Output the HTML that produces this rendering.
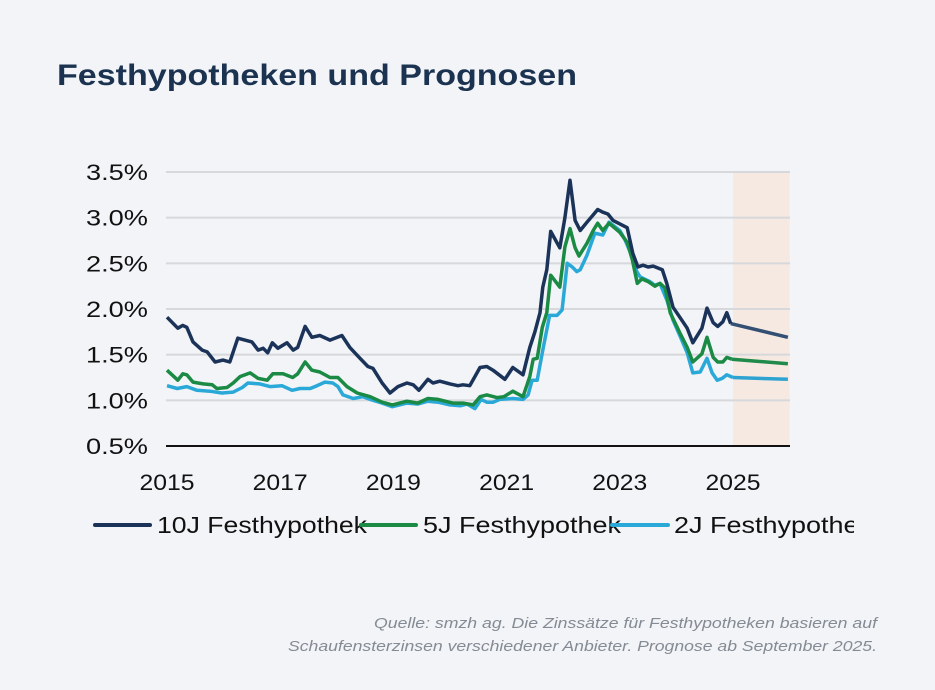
<!DOCTYPE html>
<html><head><meta charset="utf-8"><style>
html,body{margin:0;padding:0;background:#f2f4f7;}
body{width:935px;height:690px;overflow:hidden;font-family:"Liberation Sans",sans-serif;}
</style></head><body>
<svg id="chart" width="935" height="690" xmlns="http://www.w3.org/2000/svg" style="position:absolute;left:0;top:0">
<rect x="0" y="0" width="935" height="690" fill="#f2f4f7"/>
<text x="57" y="85" font-size="30" font-weight="bold" fill="#1b3350" textLength="520" lengthAdjust="spacingAndGlyphs">Festhypotheken und Prognosen</text>
<g id="grid"></g><g id="lines"></g><g id="axes"></g>
<g>
  <clipPath id="lc"><rect x="0" y="500" width="854" height="50"/></clipPath>
  <g clip-path="url(#lc)" font-size="23" fill="#111">
    <line x1="95" y1="525" x2="150" y2="525" stroke="#1b3358" stroke-width="4" stroke-linecap="round"/>
    <text x="157" y="533" textLength="210" lengthAdjust="spacingAndGlyphs">10J Festhypothek</text>
    <line x1="361" y1="525" x2="416" y2="525" stroke="#1a8a44" stroke-width="4" stroke-linecap="round"/>
    <text x="423" y="533" textLength="198" lengthAdjust="spacingAndGlyphs">5J Festhypothek</text>
    <line x1="612" y1="525" x2="668" y2="525" stroke="#2aa9d8" stroke-width="4" stroke-linecap="round"/>
    <text x="674" y="533" textLength="198" lengthAdjust="spacingAndGlyphs">2J Festhypothek</text>
  </g>
</g>
<text x="877" y="628" text-anchor="end" font-size="15" font-style="italic" fill="#858b94" textLength="503" lengthAdjust="spacingAndGlyphs">Quelle: smzh ag. Die Zinssätze für Festhypotheken basieren auf</text>
<text x="877" y="651" text-anchor="end" font-size="15" font-style="italic" fill="#858b94" textLength="589" lengthAdjust="spacingAndGlyphs">Schaufensterzinsen verschiedener Anbieter. Prognose ab September 2025.</text>
</svg>
<script>
const yTicks=[0.5,1.0,1.5,2.0,2.5,3.0,3.5];
const yTickLabels=["0.5%","1.0%","1.5%","2.0%","2.5%","3.0%","3.5%"];
const xTicks=[2015,2017,2019,2021,2023,2025];
const forecastStart=2025.0, forecastEnd=2026.0;
const t10=[0,0.19,0.28,0.35,0.46,0.62,0.71,0.85,0.99,1.11,1.25,1.50,1.61,1.70,1.78,1.86,1.96,2.12,2.23,2.31,2.44,2.56,2.70,2.88,3.09,3.23,3.41,3.55,3.64,3.80,3.94,4.08,4.24,4.35,4.45,4.61,4.70,4.82,5.00,5.14,5.23,5.35,5.53,5.65,5.76,5.97,6.11,6.29,6.41,6.50,6.59,6.64,6.71,6.78,6.94,7.03,7.12,7.21,7.30,7.42,7.53,7.61,7.70,7.79,7.88,8.13,8.23,8.32,8.41,8.50,8.59,8.75,8.83,8.94,9.06,9.19,9.29,9.45,9.54,9.65,9.73,9.82,9.89,9.96,10.97];
const v10=[1.91,1.79,1.82,1.80,1.64,1.55,1.53,1.42,1.44,1.42,1.68,1.64,1.55,1.57,1.52,1.63,1.57,1.63,1.55,1.58,1.81,1.69,1.71,1.66,1.71,1.58,1.46,1.37,1.35,1.19,1.08,1.15,1.19,1.17,1.11,1.23,1.19,1.21,1.18,1.16,1.17,1.16,1.36,1.37,1.33,1.23,1.36,1.28,1.58,1.75,1.96,2.24,2.43,2.85,2.67,3.00,3.41,2.97,2.86,2.95,3.03,3.09,3.06,3.04,2.97,2.89,2.61,2.46,2.48,2.46,2.47,2.43,2.28,2.02,1.91,1.79,1.63,1.79,2.01,1.85,1.81,1.86,1.96,1.84,1.69];
const t5=[0,0.19,0.28,0.35,0.46,0.64,0.80,0.88,1.06,1.17,1.29,1.47,1.61,1.77,1.87,2.05,2.22,2.31,2.44,2.56,2.70,2.88,3.02,3.18,3.36,3.59,3.80,3.98,4.24,4.43,4.61,4.79,5.05,5.23,5.41,5.53,5.65,5.83,5.95,6.11,6.29,6.41,6.47,6.54,6.63,6.71,6.78,6.94,7.03,7.12,7.21,7.28,7.42,7.53,7.61,7.70,7.81,8.00,8.13,8.22,8.31,8.39,8.50,8.62,8.71,8.80,8.89,9.06,9.19,9.29,9.45,9.54,9.65,9.73,9.82,9.89,9.98,10.97];
const v5=[1.33,1.22,1.29,1.28,1.20,1.18,1.17,1.13,1.14,1.19,1.26,1.30,1.24,1.22,1.29,1.29,1.25,1.29,1.42,1.33,1.31,1.25,1.25,1.15,1.08,1.04,0.98,0.95,0.99,0.97,1.02,1.01,0.97,0.97,0.95,1.04,1.06,1.03,1.04,1.10,1.04,1.26,1.45,1.46,1.80,1.96,2.37,2.24,2.68,2.88,2.67,2.58,2.72,2.86,2.94,2.86,2.94,2.84,2.73,2.54,2.28,2.33,2.30,2.25,2.28,2.23,1.96,1.74,1.58,1.42,1.51,1.69,1.47,1.42,1.42,1.47,1.45,1.40];
const t2=[0,0.18,0.35,0.53,0.76,0.97,1.17,1.33,1.43,1.64,1.82,2.03,2.21,2.35,2.53,2.65,2.79,2.93,3.02,3.11,3.29,3.46,3.64,3.80,3.98,4.24,4.43,4.61,4.79,5.00,5.18,5.30,5.44,5.55,5.65,5.76,5.88,6.11,6.29,6.38,6.45,6.54,6.64,6.76,6.89,6.98,7.07,7.16,7.24,7.30,7.42,7.56,7.70,7.81,8.00,8.09,8.18,8.30,8.36,8.53,8.62,8.71,8.83,8.94,9.06,9.19,9.29,9.42,9.54,9.63,9.72,9.81,9.89,10.00,10.97];
const v2=[1.16,1.13,1.15,1.11,1.10,1.08,1.09,1.14,1.19,1.18,1.15,1.16,1.11,1.13,1.13,1.16,1.20,1.19,1.15,1.06,1.02,1.04,1.00,0.97,0.93,0.97,0.96,0.99,0.98,0.95,0.94,0.96,0.91,1.01,0.98,0.98,1.01,1.02,1.01,1.06,1.22,1.22,1.55,1.93,1.93,1.99,2.50,2.46,2.41,2.43,2.59,2.83,2.81,2.95,2.86,2.76,2.63,2.41,2.35,2.30,2.26,2.28,2.10,1.88,1.71,1.52,1.30,1.31,1.46,1.30,1.22,1.24,1.28,1.25,1.23];
const X0=167,PX_PER_YEAR=56.6,Y0=446;
function xs(t){return X0+(t-2015)*PX_PER_YEAR;}
function ys(v){return Y0-(v-0.5)*91.33;}
const NS="http://www.w3.org/2000/svg";
function mk(tag,attrs,parent){const e=document.createElementNS(NS,tag);for(const k in attrs)e.setAttribute(k,attrs[k]);parent.appendChild(e);return e;}
const grid=document.getElementById('grid'),lines=document.getElementById('lines'),axes=document.getElementById('axes');
const shade=mk('rect',{x:xs(forecastStart),y:ys(3.5),width:xs(forecastEnd)-xs(forecastStart),height:ys(0.5)-ys(3.5),fill:'#f6e9e2'},grid);


yTicks.forEach((v,i)=>{
  if(v>0.5){const g=mk('line',{x1:166,x2:790,y1:ys(v),y2:ys(v),stroke:'#d6d8dc','stroke-width':2},grid);
  
  }
  const t=mk('text',{x:148,y:ys(v)+8,'text-anchor':'end','font-size':22,fill:'#111',textLength:62,lengthAdjust:'spacingAndGlyphs'},axes);
  t.textContent=yTickLabels[i];
  
  
});
const ax=mk('line',{x1:166,x2:790,y1:Y0,y2:Y0,stroke:'#111','stroke-width':2},axes);


xTicks.forEach(y=>{
  const t=mk('text',{x:xs(y),y:490,'text-anchor':'middle','font-size':22,fill:'#111',textLength:55,lengthAdjust:'spacingAndGlyphs'},axes);
  t.textContent=String(y);
  
  
});
function series(ts,vs,color,fc,name){
  const pts=ts.map((t,i)=>xs(2015+t).toFixed(1)+','+ys(vs[i]).toFixed(1));
  const n=pts.length;
  const f=mk('polyline',{points:pts.slice(n-2).join(' '),fill:'none',stroke:fc,'stroke-width':3.5,'stroke-linejoin':'round'},lines);
  
  
  const h=mk('polyline',{points:pts.slice(0,n-1).join(' '),fill:'none',stroke:color,'stroke-width':3.5,'stroke-linejoin':'round'},lines);
  
  
}
series(t2,v2,'#2aa9d8','#2ea3d2','line-2j');
series(t5,v5,'#1a8a44','#1f8a4a','line-5j');
series(t10,v10,'#1b3358','#334f73','line-10j');
</script>
</body></html>
